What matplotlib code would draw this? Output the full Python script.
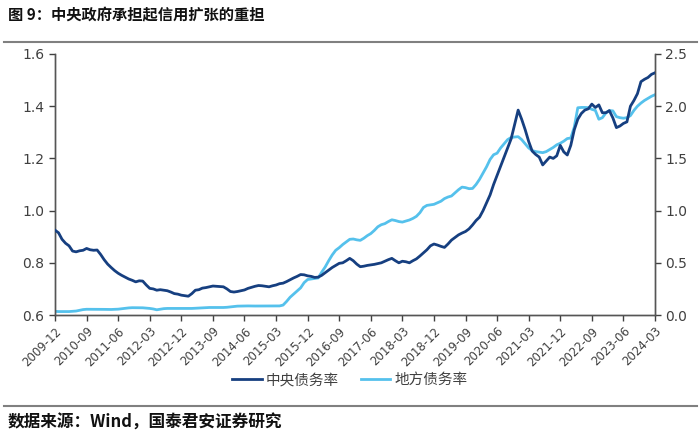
import numpy as np
import pandas as pd
import matplotlib
matplotlib.use("Agg")
import matplotlib.pyplot as plt
from matplotlib.lines import Line2D

plt.rcParams['font.family'] = ['Noto Sans CJK SC', 'DejaVu Sans']
plt.rcParams['axes.unicode_minus'] = False

# monthly, 2009-12 .. 2024-03
months = pd.date_range('2009-12-01', '2024-03-01', freq='MS')
tick_labels = [d.strftime('%Y-%m') for d in months[::9]]

# 中央债务率 (left axis)
central = [0.925,
           0.915, 0.89, 0.875, 0.865, 0.845, 0.842, 0.846, 0.848, 0.855, 0.85, 0.848, 0.849,
           0.832, 0.812, 0.795, 0.782, 0.77, 0.76, 0.752, 0.745, 0.738, 0.733, 0.727, 0.731,
           0.73, 0.715, 0.702, 0.7, 0.695, 0.697, 0.695, 0.693, 0.688, 0.682, 0.68, 0.676,
           0.674, 0.672, 0.682, 0.695, 0.697, 0.703, 0.705, 0.708, 0.711, 0.71, 0.709, 0.708,
           0.7, 0.69, 0.688, 0.69, 0.693, 0.696, 0.702, 0.706, 0.71, 0.713, 0.712, 0.71,
           0.708, 0.712, 0.715, 0.72, 0.722, 0.728, 0.735, 0.742, 0.748, 0.755, 0.754, 0.75,
           0.748, 0.744, 0.745, 0.752, 0.762, 0.772, 0.782, 0.79, 0.798, 0.8, 0.808, 0.817,
           0.808, 0.795, 0.785, 0.787, 0.79, 0.792, 0.794, 0.797, 0.8, 0.806, 0.812, 0.817,
           0.808, 0.8, 0.806, 0.804, 0.8, 0.808, 0.815, 0.826, 0.838, 0.85, 0.865, 0.872,
           0.868, 0.863, 0.859, 0.872, 0.887, 0.897, 0.907, 0.914, 0.92, 0.93, 0.945, 0.962,
           0.975, 1.0, 1.03, 1.06, 1.1, 1.135, 1.17, 1.205, 1.24, 1.275, 1.33, 1.385,
           1.35, 1.31, 1.265, 1.228, 1.215, 1.205, 1.175, 1.19, 1.205, 1.2, 1.21, 1.25,
           1.225, 1.213, 1.25, 1.31, 1.35, 1.372, 1.385, 1.39, 1.408, 1.395, 1.405, 1.375,
           1.375, 1.383, 1.355, 1.318, 1.324, 1.334, 1.34, 1.4, 1.422, 1.448, 1.494, 1.503,
           1.51, 1.522, 1.528]

# 地方债务率 (right axis)
local = [0.035,
         0.033, 0.033, 0.033, 0.033, 0.035, 0.038, 0.045, 0.052, 0.055, 0.055, 0.055, 0.055,
         0.055, 0.054, 0.053, 0.053, 0.054, 0.056, 0.06, 0.065, 0.068, 0.07, 0.07, 0.07,
         0.069, 0.066, 0.063, 0.058, 0.05, 0.056, 0.061, 0.063, 0.063, 0.062, 0.062, 0.063,
         0.063, 0.062, 0.063, 0.065, 0.067, 0.069, 0.071, 0.072, 0.072, 0.071, 0.071, 0.072,
         0.074, 0.078, 0.082, 0.085, 0.086, 0.087, 0.087, 0.086, 0.086, 0.086, 0.087, 0.087,
         0.087, 0.086, 0.086, 0.087, 0.095, 0.13, 0.17, 0.2, 0.23, 0.26, 0.31, 0.34,
         0.345, 0.35, 0.355, 0.41, 0.46, 0.52, 0.575, 0.62, 0.645, 0.675, 0.7, 0.725,
         0.728, 0.72, 0.715, 0.735, 0.76, 0.78, 0.81, 0.845, 0.865, 0.875, 0.895, 0.912,
         0.905, 0.895, 0.89, 0.9, 0.91, 0.925, 0.945, 0.98, 1.03, 1.05, 1.055, 1.06,
         1.075, 1.09, 1.115, 1.13, 1.14, 1.17, 1.2, 1.225, 1.22, 1.21, 1.212, 1.25,
         1.3, 1.36, 1.42, 1.49, 1.535, 1.55, 1.6, 1.64, 1.68, 1.7, 1.705, 1.708,
         1.68, 1.64, 1.6, 1.575, 1.565, 1.56, 1.555, 1.565, 1.585, 1.605, 1.63, 1.645,
         1.665, 1.69, 1.695, 1.8, 1.985, 1.988, 1.988, 1.986, 1.97, 1.96, 1.875, 1.89,
         1.935, 1.958, 1.955, 1.9, 1.89, 1.885, 1.89, 1.91, 1.96, 2.0, 2.03, 2.055,
         2.075, 2.095, 2.11]

dark = '#163F80'
light = '#55C1EC'
grey = '#404040'

fig = plt.figure(figsize=(7, 4.33), dpi=100)
ax = fig.add_axes([0.0786, 0.2725, 0.8571, 0.6028])
ax2 = ax.twinx()

x = np.arange(len(months))
l1, = ax.plot(x, central, color=dark, lw=2, label='中央债务率', zorder=3)
l2, = ax2.plot(x, local, color=light, lw=2, label='地方债务率')
ax.set_zorder(ax2.get_zorder() + 1)
ax.patch.set_visible(False)

ax.set_xlim(0, len(months) - 1)
ax.set_ylim(0.6, 1.6)
ax2.set_ylim(0, 2.5)
ax.set_yticks(np.arange(0.6, 1.61, 0.2))
ax.set_yticklabels(['%.1f' % v for v in np.arange(0.6, 1.61, 0.2)], family='DejaVu Sans')
ax2.set_yticks(np.arange(0, 2.51, 0.5))
ax2.set_yticklabels(['%.1f' % v for v in np.arange(0, 2.51, 0.5)], family='DejaVu Sans')
ax.set_xticks(x[::9])
ax.set_xticklabels(tick_labels, rotation=45, ha='right', rotation_mode='anchor',
                   family='DejaVu Sans')

for a in (ax, ax2):
    a.spines['top'].set_visible(False)
    for s in ('left', 'right', 'bottom'):
        a.spines[s].set_color('#555555')
        a.spines[s].set_linewidth(1)
    a.tick_params(colors=grey, labelsize=10, direction='out', length=4, width=1)
ax.tick_params(axis='x', labelsize=8.5, pad=3)

fig.legend(handles=[l1, l2], loc='center', bbox_to_anchor=(0.5, 0.122), ncol=2,
           frameon=False, fontsize=10.5, handlelength=2.0, handletextpad=0.3,
           columnspacing=1.5, labelcolor=grey)

fig.text(0.011, 0.965, '图 9：中央政府承担起信用扩张的重担', fontsize=11,
         fontweight='bold', va='center', ha='left', color='#111111')
fig.add_artist(Line2D([0.005, 0.995], [0.903, 0.903], color='#808080', lw=1.5))
fig.add_artist(Line2D([0.005, 0.995], [0.0624, 0.0624], color='#808080', lw=1.5))
fig.text(0.011, 0.025, '数据来源：Wind，国泰君安证券研究', fontsize=12,
         fontweight='bold', va='center', ha='left', color='#111111')

fig.savefig('out.png', dpi=100)
